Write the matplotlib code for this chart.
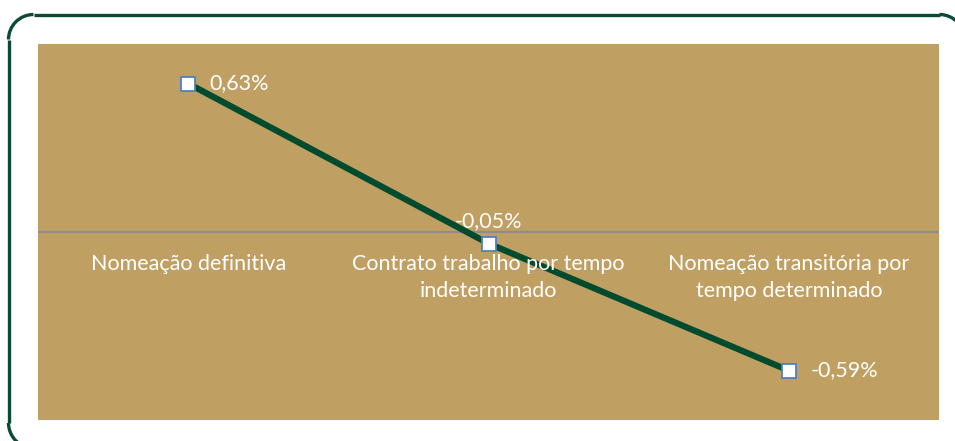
import matplotlib
matplotlib.use("Agg")
from matplotlib import pyplot as plt
from matplotlib.patches import Arc

categories = ["Nomeação definitiva",
              "Contrato trabalho por tempo\nindeterminado",
              "Nomeação transitória por\ntempo determinado"]
values = [0.63, -0.05, -0.59]
labels = ["0,63%", "-0,05%", "-0,59%"]

BG = "#BF9F62"
GREEN = "#004B2E"
FRAME = "#0B4A33"
FONT = "Lato"
FS = 15.5

fig = plt.figure(figsize=(9.55, 4.41), dpi=100)

# rounded outer frame (pixel units, y up); right and bottom sides run off the canvas
bg_ax = fig.add_axes([0, 0, 1, 1])
bg_ax.set_xlim(0, 955)
bg_ax.set_ylim(0, 441)
bg_ax.axis("off")
r = 25
left, top, right, bottom = 8.5, 426.5, 964.5, -7
fw = 2.4
bg_ax.plot([left + r, right - r], [top, top], color=FRAME, lw=fw, solid_capstyle="butt")
bg_ax.plot([left, left], [bottom + r, top - r], color=FRAME, lw=fw, solid_capstyle="butt")
bg_ax.add_patch(Arc((left + r, top - r), 2 * r, 2 * r, theta1=90, theta2=180,
                    color=FRAME, lw=fw))
bg_ax.add_patch(Arc((right - r, top - r), 2 * r, 2 * r, theta1=0, theta2=90,
                    color=FRAME, lw=fw))
bg_ax.add_patch(Arc((left + r, bottom + r), 2 * r, 2 * r, theta1=180, theta2=270,
                    color=FRAME, lw=fw))

ax = fig.add_axes([38 / 955, 1 - 420 / 441, (939 - 38) / 955, (420 - 43.5) / 441])
ax.set_facecolor(BG)

x = list(range(len(values)))
ax.axhline(0, color="#8C8C8C", lw=1.5, zorder=1)
ax.plot(x, values, color=GREEN, lw=4.5, zorder=2,
        marker="s", markersize=9.5, markerfacecolor="white",
        markeredgecolor="#4F81BD", markeredgewidth=1.3)

ax.set_xlim(-0.5, 2.5)
ax.set_ylim(-0.8, 0.8)
ax.set_xticks([])
ax.set_yticks([])
for s in ax.spines.values():
    s.set_visible(False)

# category labels below the zero line
for i, c in enumerate(categories):
    ax.annotate(c, (i, 0), xytext=(0, -16), textcoords="offset points",
                ha="center", va="top", color="white", fontsize=FS,
                family=FONT, linespacing=1.45)

# data labels
ax.annotate(labels[0], (0, values[0]), xytext=(15.5, 0), textcoords="offset points",
            ha="left", va="center", color="white", fontsize=FS, family=FONT)
ax.annotate(labels[1], (1, values[1]), xytext=(0, 9), textcoords="offset points",
            ha="center", va="bottom", color="white", fontsize=FS, family=FONT)
ax.annotate(labels[2], (2, values[2]), xytext=(16, 0), textcoords="offset points",
            ha="left", va="center", color="white", fontsize=FS, family=FONT)

fig.savefig("out.png", dpi=100, facecolor="white")
